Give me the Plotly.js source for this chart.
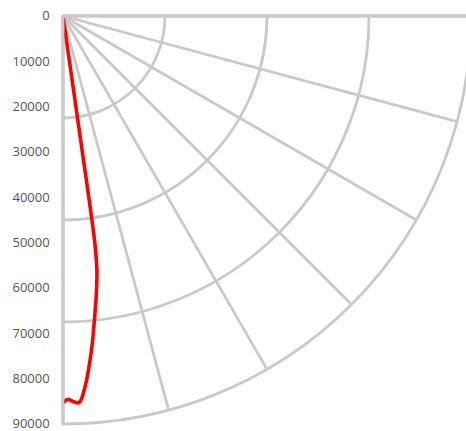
<!DOCTYPE html>
<html>
<head>
<meta charset="utf-8">
<script src="https://cdn.plot.ly/plotly-3.0.1.min.js"></script>
<style>
html,body{margin:0;padding:0;overflow:hidden;background:#fff;}
#chart{width:472px;height:431px;}
</style>
</head>
<body>
<div id="chart"></div>
<script>
// radial values (depth) and angles (degrees, plotly convention: 270 = straight down)
var depth = [0, 10000, 20000, 30000, 40000, 50000, 56500, 62000, 67400, 72000, 76100, 80500, 83300, 84450, 85200, 85400, 85070, 84560, 84800, 85300];
var angle = [278.1, 278.1, 278.1, 278.1, 278.1, 278.0, 277.6, 276.8, 275.9, 275.2, 274.5, 273.7, 273.1, 272.8, 272.5, 272.2, 271.5, 270.8, 270.4, 270.0];
var radialTicks = [0, 10000, 20000, 30000, 40000, 50000, 60000, 70000, 80000, 90000];
var radialGrid = [22500, 45000, 67500, 90000];
var angularGrid = [270, 285, 300, 315, 330, 345, 360];

var gridColor = '#c9c9c9';

var traces = [{
  // invisible copy so that the label subplot is drawn
  type: 'scatterpolar',
  mode: 'lines',
  r: depth,
  theta: angle,
  subplot: 'polar',
  line: {color: 'rgba(0,0,0,0)', width: 0},
  showlegend: false,
  hoverinfo: 'skip'
}, {
  type: 'scatterpolar',
  mode: 'lines',
  r: depth,
  theta: angle,
  subplot: 'polar2',
  line: {color: '#ff0000', width: 3.6, shape: 'spline', smoothing: 0.6},
  showlegend: false,
  hoverinfo: 'skip'
}];

var layout = {
  width: 472,
  height: 431,
  margin: {l: 63, r: 1, t: 16, b: 7, pad: 0},
  paper_bgcolor: '#ffffff',
  showlegend: false,
  font: {family: 'Open Sans, sans-serif', size: 13, color: '#555555'},
  polar: {
    domain: {x: [0, 1], y: [0, 1]},
    sector: [270, 360],
    bgcolor: 'rgba(0,0,0,0)',
    radialaxis: {
      visible: true,
      range: [0, 90000],
      angle: 270,
      tickmode: 'array',
      tickvals: radialTicks,
      ticktext: radialTicks.map(function (v) { return v + '\u00a0\u00a0'; }),
      ticks: '',
      showticklabels: true,
      showgrid: false,
      showline: true,
      linecolor: gridColor,
      linewidth: 2.8,
      tickfont: {family: 'Open Sans, sans-serif', size: 13, color: '#555555'},
      side: 'clockwise',
      tickangle: -90
    },
    angularaxis: {
      showline: false,
      showgrid: false,
      showticklabels: false,
      ticks: ''
    }
  },
  polar2: {
    domain: {x: [0, 1], y: [0, 1]},
    sector: [270, 360],
    bgcolor: 'rgba(0,0,0,0)',
    radialaxis: {
      range: [0, 90000],
      angle: 270,
      tickmode: 'array',
      tickvals: radialGrid,
      showticklabels: false,
      ticks: '',
      showline: false,
      showgrid: true,
      gridcolor: gridColor,
      gridwidth: 2.8
    },
    angularaxis: {
      tickmode: 'array',
      tickvals: angularGrid,
      showticklabels: false,
      ticks: '',
      showline: true,
      linecolor: gridColor,
      linewidth: 2.8,
      showgrid: true,
      gridcolor: gridColor,
      gridwidth: 2.8
    }
  }
};

Plotly.newPlot('chart', traces, layout, {displayModeBar: false, staticPlot: true});
</script>
</body>
</html>
